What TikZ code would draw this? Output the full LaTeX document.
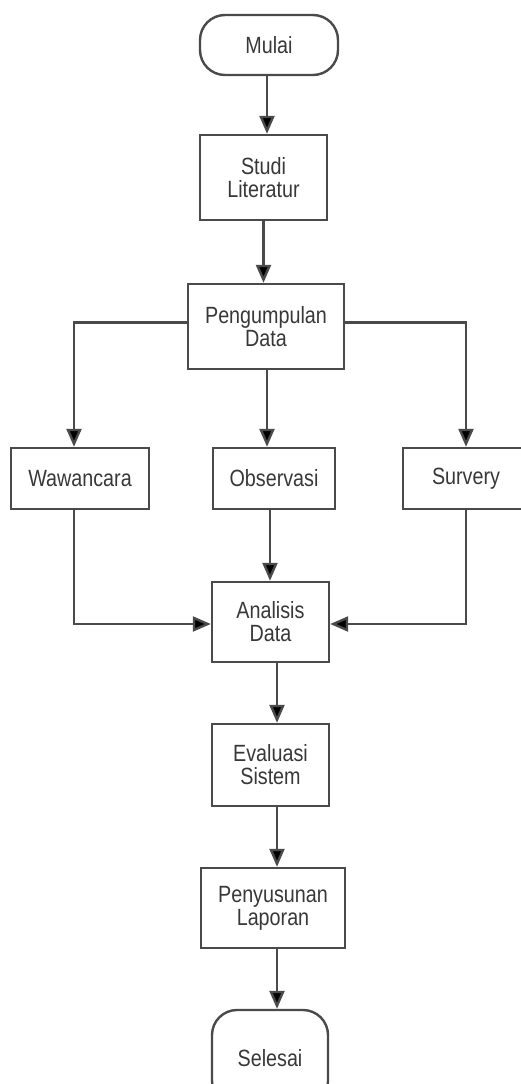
\documentclass[tikz,border=0pt]{standalone}
\usepackage{fontspec}
\setmainfont{Liberation Sans}[FakeStretch=0.84]
\usetikzlibrary{arrows.meta}
\definecolor{ln}{HTML}{4A4A4A}
\definecolor{tx}{HTML}{383838}
\tikzset{
  box/.style={draw=ln, line width=2.4pt, rectangle, inner sep=0pt, align=center,
    text=tx, font=\fontsize{23.5}{23}\selectfont},
  term/.style={box, rounded corners=25pt},
  arr/.style={draw=ln, line width=2.4pt, -{Triangle[width=15pt,length=18pt,fill=black]}},
  ln/.style={draw=ln, line width=2.4pt}
}
\begin{document}
\begin{tikzpicture}[x=1pt,y=-1pt]
\useasboundingbox (0,0) rectangle (521,1084);
\node[term, minimum width=138pt, minimum height=60pt] (mulai) at (269,45) {Mulai};
\node[box, minimum width=127pt, minimum height=85pt] (studi) at (263.5,177.5) {Studi\\Literatur};
\node[box, minimum width=156pt, minimum height=85pt] (peng) at (266,326.5) {Pengumpulan\\Data};
\node[box, minimum width=138pt, minimum height=61pt] (waw) at (80,478.5) {Wawancara};
\node[box, minimum width=122pt, minimum height=61pt] (obs) at (274,478.5) {Observasi};
\node[box, minimum width=126pt, minimum height=61pt] (sur) at (466,478.5) {Survery};
\node[box, minimum width=117pt, minimum height=80pt] (ana) at (270.5,622) {Analisis\\Data};
\node[box, minimum width=117pt, minimum height=82pt] (eva) at (270.5,765) {Evaluasi\\Sistem};
\node[box, minimum width=144pt, minimum height=80pt] (pen) at (273,908) {Penyusunan\\Laporan};
\node[term, minimum width=116pt, minimum height=96pt] (sel) at (270,1058) {Selesai};

\draw[arr] ([xshift=-2pt]mulai.south) -- ([xshift=-2pt]mulai.south |- studi.north);
\draw[arr] (studi.south) -- (studi.south |- peng.north);
\draw[arr] ([yshift=4pt]peng.west) -| ([xshift=-6pt]waw.north);
\draw[arr] ([xshift=1pt]peng.south) -- ([xshift=1pt]peng.south |- obs.north);
\draw[arr] ([yshift=4pt]peng.east) -| (sur.north);
\draw[arr] ([xshift=-6pt]waw.south) |- ([yshift=-2pt]ana.west);
\draw[arr] ([xshift=-4pt]obs.south) -- ([xshift=-4pt]obs.south |- ana.north);
\draw[arr] (sur.south) |- ([yshift=-2pt]ana.east);
\draw[arr] ([xshift=6.5pt]ana.south) -- ([xshift=6.5pt]ana.south |- eva.north);
\draw[arr] ([xshift=6.5pt]eva.south) -- ([xshift=6.5pt]eva.south |- pen.north);
\draw[arr] ([xshift=4pt]pen.south) -- ([xshift=4pt]pen.south |- sel.north);
\end{tikzpicture}
\end{document}
